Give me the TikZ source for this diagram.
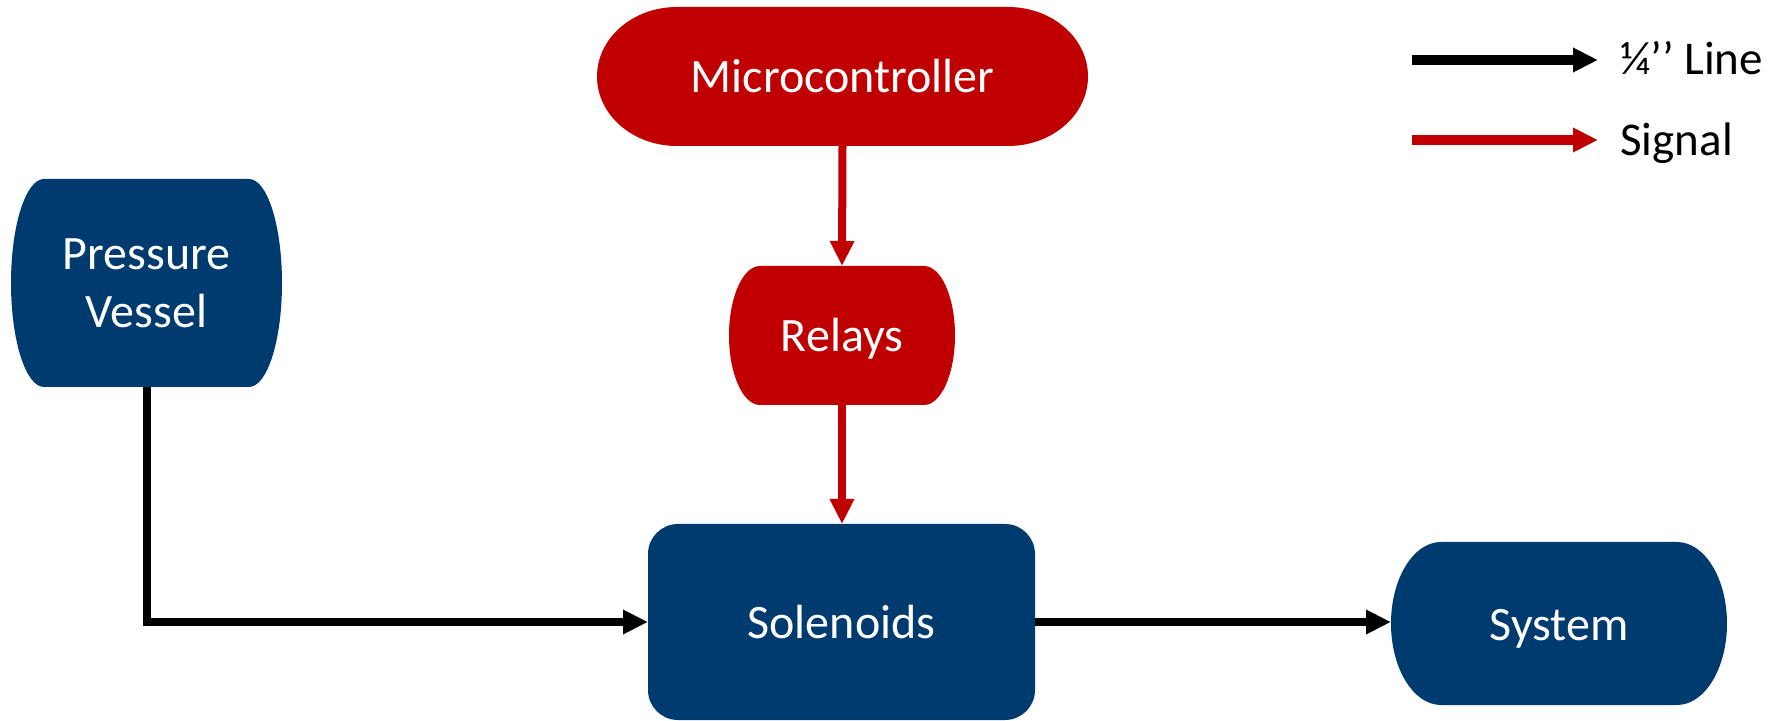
\documentclass[tikz,border=0pt]{standalone}
\usepackage{fontspec}
\setmainfont{Carlito}
\usetikzlibrary{arrows.meta,calc}
\definecolor{boxblue}{RGB}{0,59,111}
\definecolor{sigred}{RGB}{192,0,0}
\newcommand\termfill[4]{% color, rx, ry
  \fill[#1] ([xshift=-#2]path picture bounding box.north east)
    arc[start angle=90,end angle=-90,x radius=#2,y radius=#3]
    -- ([xshift=#2]path picture bounding box.south west)
    arc[start angle=270,end angle=90,x radius=#2,y radius=#3] -- cycle;}
\tikzset{
  lbl/.style={text=white,font=\fontsize{24pt}{29pt}\selectfont,align=center,inner sep=0pt,outer sep=0pt},
  oneline/.style={text height=20pt,text depth=3.5pt},
  term/.style n args={5}{lbl,minimum width=#1,minimum height=#2,
    path picture={\termfill{#5}{#3}{#4}{}}},
  rbox/.style n args={2}{lbl,minimum width=#1,minimum height=#2,fill=boxblue,rounded corners=15pt},
  pipe/.style={line width=4pt,draw=black,-{Triangle[length=12.5pt,width=11.5pt]}},
  signal/.style={line width=4pt,draw=sigred,-{Triangle[length=12.5pt,width=11.5pt]}},
  legtext/.style={font=\fontsize{23.5pt}{28pt}\selectfont,inner sep=0pt,anchor=base west}
}
\begin{document}
\begin{tikzpicture}[x=0.5pt,y=-0.5pt]
\useasboundingbox (0,0) rectangle (1774,721);
\node[term={245.5pt}{69.5pt}{40pt}{34.75pt}{sigred},oneline] (mc) at (842.5,76.5) {Microcontroller};
\node[term={113pt}{69.5pt}{15.5pt}{34.75pt}{sigred},oneline] (rel) at (842,335.5) {Relays};
\node[term={135.5pt}{104pt}{16.5pt}{52pt}{boxblue}] (pv) at (146.5,283) {Pressure\\Vessel};
\node[rbox={193.5pt}{98pt},oneline] (sol) at (841.5,622) {Solenoids};
\node[term={168pt}{81.5pt}{25pt}{40.75pt}{boxblue},oneline] (sys) at (1559,623.5) {System};
\draw[signal] (mc.south) -- (rel.north);
\draw[signal] (rel.south) -- (rel.south |- sol.north);
\draw[pipe] (pv.south) |- (sol.west);
\draw[pipe] (sol.east) -- (sol.east -| sys.west);
% legend
\node[legtext] (l1) at (1620,75) {¼’’ Line};
\node[legtext] (l2) at (1620,156) {Signal};
\coordinate (l1s) at (1412,60);
\coordinate (l2s) at (1412,140);
\draw[pipe,line width=5pt] (l1s) -- (l1s -| 1598,0);
\draw[signal,line width=5pt] (l2s) -- (l2s -| 1598,0);
\end{tikzpicture}
\end{document}
